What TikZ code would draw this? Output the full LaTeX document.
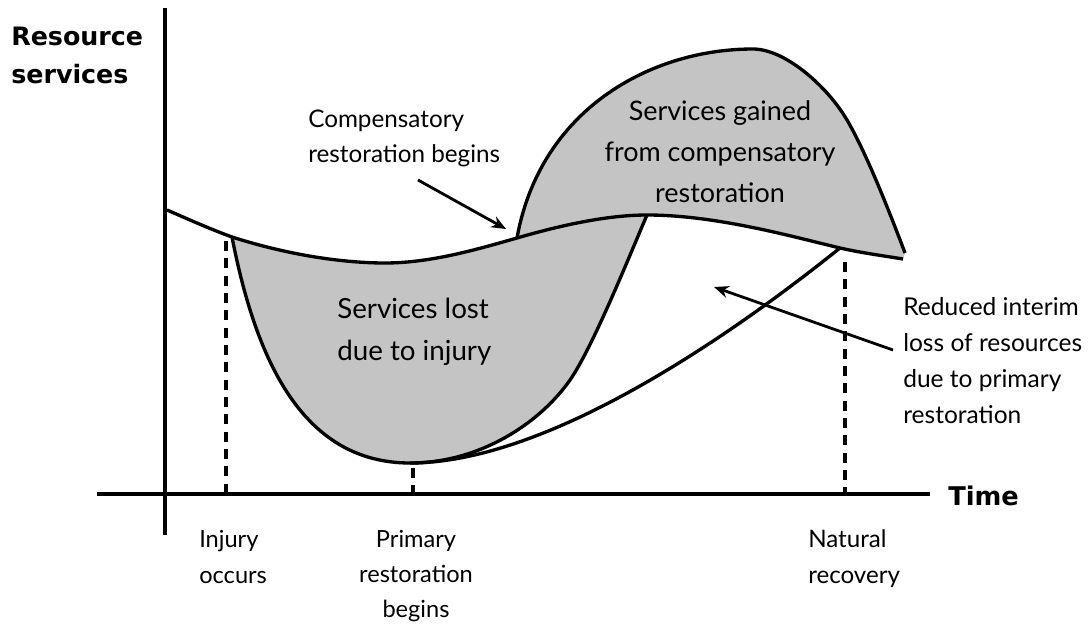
\documentclass[tikz,border=0pt]{standalone}
\usepackage{fontspec}
\setmainfont{Lato}
\newfontfamily\axisfont{DejaVu Sans}
\usetikzlibrary{arrows.meta}
\definecolor{fillgray}{RGB}{196,196,196}
\newcommand\fsz[2]{\fontsize{#1}{#2}\selectfont}
\begin{document}
\begin{tikzpicture}[x=0.75pt,y=-0.75pt,
  curve/.style={line width=2.5pt, line join=round},
  axis/.style={line width=2.8pt},
  guide/.style={line width=2.6pt, dash pattern=on 7.5pt off 5.5pt},
  pointer/.style={line width=2.1pt, -{Stealth[length=11pt,width=9pt]}},
  lbl/.style={inner sep=0pt, anchor=base west},
  clbl/.style={inner sep=0pt, anchor=base}]
\useasboundingbox (0,0) rectangle (1091,628);

% key points
\coordinate (B0) at (167,210);
\coordinate (B1) at (232,237);
\coordinate (B2) at (385,263);
\coordinate (B3) at (517,238);
\coordinate (B4) at (647,215);
\coordinate (B5) at (840,248);
\coordinate (B6) at (903,259);
\coordinate (M) at (410,463);
\coordinate (P) at (570,380);
\coordinate (G2) at (753,49);
\coordinate (G3) at (847,120);
\coordinate (G4) at (905,253);

% shaded regions
\fill[fillgray] (B1) .. controls (285,254) and (340,263) .. (B2)
  .. controls (430,263) and (475,250) .. (B3)
  .. controls (565,224) and (610,215) .. (B4)
  .. controls (631,252) and (593,347) .. (P)
  .. controls (540,423) and (480,463) .. (M)
  .. controls (300,463) and (255,355) .. (B1) -- cycle;
\fill[fillgray] (B3) .. controls (540,110) and (650,49) .. (G2)
  .. controls (785,49) and (827,86) .. (G3)
  .. controls (867,154) and (891,216) .. (G4) -- (B6)
  .. controls (885,256) and (862,253) .. (B5)
  .. controls (790,236) and (715,215) .. (B4)
  .. controls (610,215) and (565,224) .. (B3) -- cycle;

% axes
\coordinate (Ytop) at (165,8);
\coordinate (Ybot) at (165,535);
\coordinate (Xl) at (97,494);
\coordinate (Xr) at (930,494);
\draw[axis] (Ytop) -- (Ybot);
\draw[axis] (Xl) -- (Xr);

% curves
\draw[curve] (B0) .. controls (190,220) and (210,229) .. (B1)
  .. controls (285,254) and (340,263) .. (B2)
  .. controls (430,263) and (475,250) .. (B3)
  .. controls (565,224) and (610,215) .. (B4)
  .. controls (715,215) and (790,236) .. (B5)
  .. controls (862,253) and (885,256) .. (B6);
\draw[curve] (B3) .. controls (540,110) and (650,49) .. (G2)
  .. controls (785,49) and (827,86) .. (G3)
  .. controls (867,154) and (891,216) .. (G4);
\draw[curve] (B1) .. controls (255,355) and (300,463) .. (M)
  .. controls (480,463) and (540,423) .. (P)
  .. controls (593,347) and (631,252) .. (B4);
\draw[curve] (M) .. controls (560,463) and (760,312) .. (B5);

% dashed guides
\coordinate (D1t) at (226,241);
\coordinate (D1b) at (226,492);
\coordinate (D2t) at (413,468);
\coordinate (D2b) at (413,492);
\coordinate (D3t) at (845,262);
\coordinate (D3b) at (845,492);
\draw[guide] (D1t) -- (D1b);
\draw[guide] (D2t) -- (D2b);
\draw[guide] (D3t) -- (D3b);

% pointers
\coordinate (A1s) at (418,180);
\coordinate (A1e) at (506,229);
\coordinate (A2s) at (893,350);
\coordinate (A2e) at (714,287);
\draw[pointer] (A1s) -- (A1e);
\draw[pointer] (A2s) -- (A2e);

% labels
\node[lbl, font=\axisfont\bfseries\fsz{19}{28.5}] (ylab) at (11,45)
  {\begin{tabular}[t]{@{}l@{}}Resource\\services\end{tabular}};
\node[lbl, font=\axisfont\bfseries\fsz{19.3}{24}] (xlab) at (948,505) {Time};
\node[lbl, font=\fsz{18.2}{26.25}] (comp) at (308,127)
  {\begin{tabular}[t]{@{}l@{}}Compensatory\\restoration begins\end{tabular}};
\node[clbl, font=\fsz{20.2}{30.75}] (gain) at (720,120)
  {\begin{tabular}[t]{@{}c@{}}Services gained\\from compensatory\\restoration\end{tabular}};
\node[lbl, font=\fsz{20.8}{31.5}] (lost) at (337,318)
  {\begin{tabular}[t]{@{}l@{}}Services lost\\due to injury\end{tabular}};
\node[lbl, font=\fsz{18.4}{27}] (reduced) at (903,315)
  {\begin{tabular}[t]{@{}l@{}}Reduced interim\\loss of resources\\due to primary\\restoration\end{tabular}};
\node[lbl, font=\fsz{17.7}{27}] (injury) at (199,547)
  {\begin{tabular}[t]{@{}l@{}}Injury\\occurs\end{tabular}};
\node[clbl, font=\fsz{17.7}{26.25}] (primary) at (416,547)
  {\begin{tabular}[t]{@{}c@{}}Primary\\restoration\\begins\end{tabular}};
\node[lbl, font=\fsz{18.1}{27}] (natural) at (808,547)
  {\begin{tabular}[t]{@{}l@{}}Natural\\recovery\end{tabular}};
\end{tikzpicture}
\end{document}
